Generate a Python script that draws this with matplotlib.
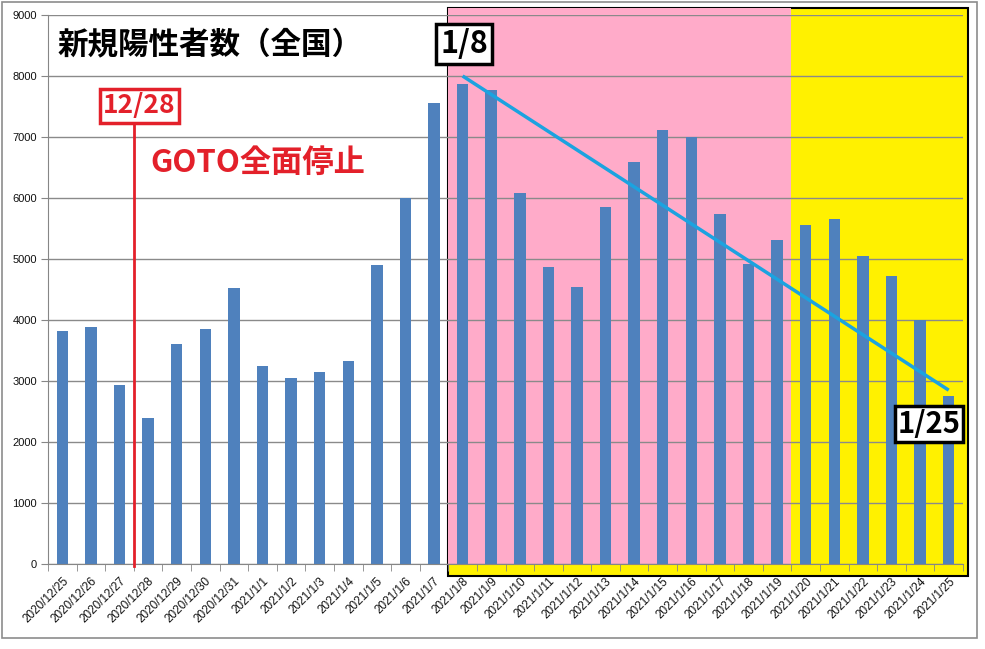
import matplotlib
matplotlib.use("Agg")
import matplotlib.pyplot as plt
from matplotlib.patches import Rectangle

plt.rcParams['font.family'] = ['Noto Sans CJK JP', 'DejaVu Sans']

dates = ['2020/12/25', '2020/12/26', '2020/12/27', '2020/12/28', '2020/12/29',
         '2020/12/30', '2020/12/31', '2021/1/1', '2021/1/2', '2021/1/3',
         '2021/1/4', '2021/1/5', '2021/1/6', '2021/1/7', '2021/1/8',
         '2021/1/9', '2021/1/10', '2021/1/11', '2021/1/12', '2021/1/13',
         '2021/1/14', '2021/1/15', '2021/1/16', '2021/1/17', '2021/1/18',
         '2021/1/19', '2021/1/20', '2021/1/21', '2021/1/22', '2021/1/23',
         '2021/1/24', '2021/1/25']
cases = [3820, 3880, 2935, 2395, 3605, 3850, 4525, 3245, 3050, 3150,
         3325, 4900, 5995, 7560, 7875, 7770, 6080, 4870, 4540, 5850,
         6590, 7115, 7000, 5735, 4925, 5310, 5555, 5650, 5050, 4720,
         3995, 2755]
trend_dates = ['2021/1/8', '2021/1/25']
trend_vals = [8000, 2850]
goto_stop = '2020/12/28'
pink_start, pink_end = '2021/1/8', '2021/1/20'

fig = plt.figure(figsize=(9.85, 6.49), dpi=100)
W, H = 985, 649
ax = fig.add_axes([48 / W, 85 / H, (963 - 48) / W, (564 - 15) / H])

xpos = list(range(len(dates)))
idx = {d: i for i, d in enumerate(dates)}

ax.set_xlim(-0.5, len(dates) - 0.5)
ax.set_ylim(0, 9000)

# background boxes
ps = idx[pink_start] - 0.5
pe = idx[pink_end] - 0.5
box_right = len(dates) - 0.5 + 0.17
ax.add_patch(Rectangle((ps, -197), box_right - ps, 9115 + 197, facecolor='#FFF100',
                       edgecolor='black', lw=1.5, zorder=0.1, clip_on=False))
ax.add_patch(Rectangle((ps, 0), pe - ps, 9115, facecolor='#FFABC9',
                       edgecolor='none', lw=0, zorder=0.2, clip_on=False))

ax.set_axisbelow(True)
ax.yaxis.grid(True, color='#8A8A8A', lw=1)
ax.set_yticks(range(0, 9001, 1000))

ax.bar(xpos, cases, width=0.4, color='#4F81BD', zorder=2)

# trend line
ax.plot([idx[d] for d in trend_dates], trend_vals, color='#1BA3E0', lw=2.5,
        zorder=3, solid_capstyle='butt')

# GOTO line
gx = idx[goto_stop] - 0.5
ax.plot([gx, gx], [-30, 7200], color='#E3202A', lw=2, zorder=3, clip_on=False)

ax.set_xticks(xpos)
ax.set_xticklabels(dates, rotation=45, ha='right', rotation_mode='anchor', fontsize=8.5,
                   color='#111111')
ax.set_xticks([i - 0.5 for i in range(len(dates) + 1)], minor=True)
ax.tick_params(axis='x', which='major', length=0, pad=8)
ax.tick_params(axis='x', which='minor', length=5, color='#868686', direction='out')
ax.tick_params(axis='y', length=5, color='#868686', labelsize=8, labelcolor='#111111', pad=3)
for lab in ax.get_yticklabels():
    lab.set_fontfamily(['Liberation Sans', 'DejaVu Sans'])
for lab in ax.get_xticklabels():
    lab.set_fontfamily(['Liberation Sans', 'DejaVu Sans'])

for s in ['top', 'right']:
    ax.spines[s].set_visible(False)
ax.spines['left'].set_color('#868686')
ax.spines['bottom'].set_color('#868686')
ax.spines['bottom'].set_zorder(2.5)

# texts
def fx(px):
    return px / W

def fy(py):
    return 1 - py / H

fig.text(fx(58), fy(44), '新規陽性者数（全国）', fontsize=22, fontweight='bold',
         ha='left', va='center', color='black')
fig.text(fx(464), fy(44), '1/8', fontsize=22, fontweight='bold', ha='center', va='center',
         color='black', bbox=dict(boxstyle='square,pad=0.12', fc='white', ec='black', lw=2.5),
         zorder=10)
fig.text(fx(139.5), fy(106), '12/28', fontsize=19, fontweight='bold', ha='center',
         va='center', color='#E3202A',
         bbox=dict(boxstyle='square,pad=0.12', fc='white', ec='#E3202A', lw=2.5), zorder=10)
fig.text(fx(150), fy(163), 'GOTO全面停止', fontsize=22.5, fontweight='bold', ha='left',
         va='center', color='#E3202A')
fig.text(fx(929), fy(424), '1/25', fontsize=21, fontweight='bold', ha='center',
         va='center', color='black',
         bbox=dict(boxstyle='square,pad=0.1', fc='white', ec='black', lw=2.5), zorder=10)

# outer frame
fig.add_artist(Rectangle((fx(1.5), fy(638)), fx(977) - fx(1.5), fy(1.5) - fy(638),
                         transform=fig.transFigure, fill=False, ec='#8C8C8C', lw=1.2))

fig.savefig('out.png', dpi=100)
